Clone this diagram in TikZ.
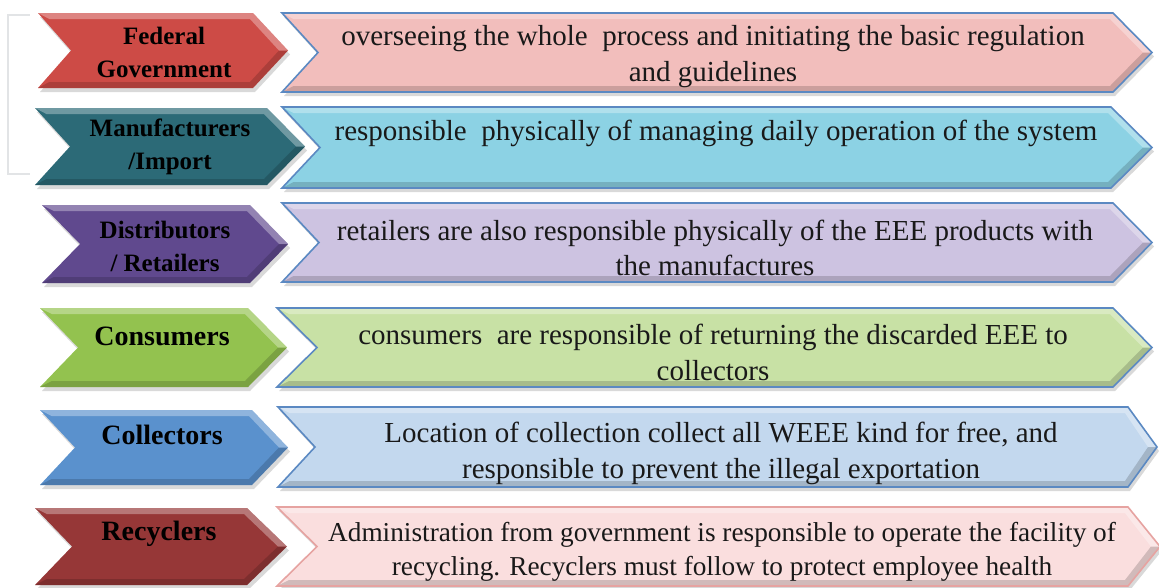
\documentclass[tikz,border=0pt]{standalone}
\usepackage{fontspec}
\setmainfont{Liberation Serif}
\usetikzlibrary{shadows}
\definecolor{lA}{HTML}{CD4B46}\definecolor{rA}{HTML}{F2BEBC}
\definecolor{lB}{HTML}{2C6A77}\definecolor{rB}{HTML}{8CD2E4}
\definecolor{lC}{HTML}{60498E}\definecolor{rC}{HTML}{CDC3E1}
\definecolor{lD}{HTML}{93C24F}\definecolor{rD}{HTML}{C8E1A5}
\definecolor{lE}{HTML}{5A91CD}\definecolor{rE}{HTML}{C3D8EE}
\definecolor{lF}{HTML}{963737}\definecolor{rF}{HTML}{FADEDE}
\definecolor{edgeblue}{HTML}{5B89C2}\definecolor{edgepink}{HTML}{E6A3A1}
\definecolor{brk}{HTML}{E2E4E6}
\newcommand{\mychev}[8]{%
  \path[#7] (#1,#5) -- (#3,#5) -- (#4,{(#5+#6)/2}) -- (#3,#6) -- (#1,#6) -- ({#1+#2},{(#5+#6)/2}) -- cycle;
  \fill[white,opacity=0.32] (#1,#5) -- (#3,#5) -- (#4,{(#5+#6)/2}) -- ({#4-9},{(#5+#6)/2}) -- ({#3-3},{#5+6}) -- ({#1+#2*12/(#6-#5)+6},{#5+6}) -- cycle;
  \fill[black,opacity=0.16] (#1,#6) -- (#3,#6) -- (#4,{(#5+#6)/2}) -- ({#4-9},{(#5+#6)/2}) -- ({#3-3},{#6-6}) -- ({#1+#2*12/(#6-#5)+6},{#6-6}) -- cycle;
  \path[#8] (#1,#5) -- (#3,#5) -- (#4,{(#5+#6)/2}) -- (#3,#6) -- (#1,#6) -- ({#1+#2},{(#5+#6)/2}) -- cycle;
}
\tikzset{
  shd/.style={drop shadow={opacity=0.3,shadow xshift=2pt,shadow yshift=-4pt}},
  lfill/.style={fill=#1,shd},
  rfill/.style={fill=#1,shd},
  redge/.style={draw=#1,line width=1.6pt,line join=miter},
  lbl/.style={font=\bfseries\fontsize{25}{33}\selectfont,align=center,inner sep=0pt,text=black},
  lblbig/.style={font=\bfseries\fontsize{28}{33}\selectfont,align=center,inner sep=0pt,text=black},
  desc/.style={font=\fontsize{29}{35.5}\selectfont,align=center,inner sep=0pt,text=black!90},
  descsm/.style={font=\fontsize{27.3}{34}\selectfont,align=center,inner sep=0pt,text=black!90}
}
\begin{document}
\begin{tikzpicture}[x=1pt,y=-1pt]
\useasboundingbox (0,0) rectangle (1159,587);
\clip (0,0) rectangle (1159,587);
% bracket
\draw[brk,line width=2pt] (30,15) -- (8,15) -- (8,174) -- (30,174);
% left chevrons
\mychev{38}{33}{253}{288}{13}{88}{lfill=lA}{draw=none}
\mychev{35}{35}{267}{305}{108}{185}{lfill=lB}{draw=none}
\mychev{42}{38}{250}{288}{205}{283}{lfill=lC}{draw=none}
\mychev{40}{38}{248}{287}{308}{387}{lfill=lD}{draw=none}
\mychev{40}{35}{252}{288}{410}{485}{lfill=lE}{draw=none}
\mychev{35}{37}{247}{287}{508}{585}{lfill=lF}{draw=none}
% right chevrons
\mychev{282}{36}{1113}{1152}{13}{92}{rfill=rA}{redge=edgeblue}
\mychev{282}{38}{1111}{1152}{107}{188}{rfill=rB}{redge=edgeblue}
\mychev{282}{37}{1113}{1152}{203}{282}{rfill=rC}{redge=edgeblue}
\mychev{277}{40}{1113}{1152}{308}{387}{rfill=rD}{redge=edgeblue}
\mychev{278}{37}{1128}{1157}{407}{487}{rfill=rE}{redge=edgeblue}
\mychev{277}{40}{1128}{1160}{507}{586}{rfill=rF}{redge=edgepink}
% labels
\node[lbl] (fed) at (164,52.5) {Federal\\Government};
\node[lbl] (man) at (170,147) {Manufacturers\\/Import};
\node[lbl] (dis) at (165,246) {Distributors\\/ Retailers};
\node[lblbig] (con) at (162,336) {Consumers};
\node[lblbig] (col) at (162,435) {Collectors};
\node[lblbig] (rec) at (159,534) {Recyclers};
% descriptions
\node[desc] (dfed) at (713,56.5) {overseeing the whole\ \ process and initiating the basic regulation\\and guidelines};
\node[desc] (dman) at (716,133) {responsible\ \ physically of managing daily operation of the system};
\node[desc] (ddis) at (715,248) {retailers are also responsible physically of the EEE products with\\the manufactures};
\node[desc] (dcon) at (713,352.5) {consumers\ \ are responsible of returning the discarded EEE to\\collectors};
\node[desc] (dcol) at (721,453.5) {Location of collection collect all WEEE kind for free, and\\responsible to prevent the illegal exportation};
\node[descsm] (drec) at (722,552) {Administration from government is responsible to operate the facility of\\recycling. Recyclers must follow to protect employee health};
\end{tikzpicture}
\end{document}
